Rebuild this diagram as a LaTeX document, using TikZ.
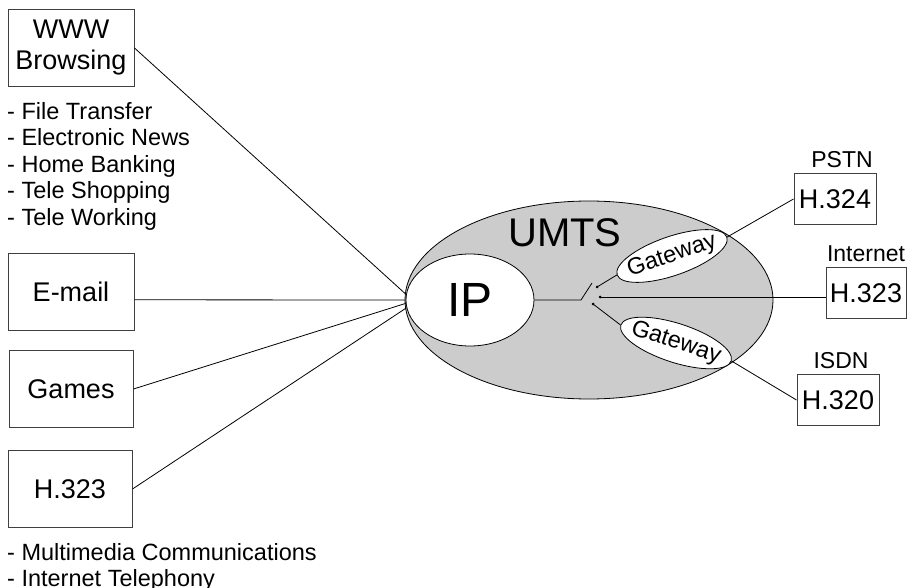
\documentclass[tikz,border=0pt]{standalone}
\usepackage{fontspec}
\setmainfont{Liberation Sans}
\definecolor{UmtsGray}{RGB}{204,204,204}
\definecolor{BoxLine}{RGB}{64,64,64}
\usetikzlibrary{positioning, shapes}

\begin{document}
\begin{tikzpicture}[x=1pt, y=1pt,
    svcbox/.style={draw=BoxLine, line width=1pt, minimum width=126pt, minimum height=77pt, inner sep=0pt, align=center, font=\fontsize{27}{31}\selectfont},
    netbox/.style={draw=BoxLine, line width=1pt, minimum width=82pt, minimum height=51pt, inner sep=0pt, font=\fontsize{27}{31}\selectfont},
    netlabel/.style={inner sep=0pt, font=\fontsize{23}{26}\selectfont},
    gateway/.style={ellipse, draw, fill=white, line width=0.8pt, minimum width=116pt, minimum height=39pt, inner xsep=-10pt, inner ysep=0pt, font=\fontsize{23.5}{26}\selectfont},
    svclist/.style={inner sep=0pt, align=left, anchor=north west, font=\fontsize{23.5}{26.5}\selectfont},
    link/.style={line width=0.8pt}]
    \useasboundingbox (0,0) rectangle (908,-588);

    % UMTS network
    \draw[fill=UmtsGray, line width=0.8pt] (589,-300) ellipse [x radius=184pt, y radius=99pt];
    \node[font=\fontsize{40}{44}\selectfont] (umts) at (565,-233) {UMTS};
    \node[ellipse, draw, fill=white, line width=0.8pt, minimum width=128pt, minimum height=92pt, inner sep=0pt, font=\fontsize{48}{52}\selectfont] (ip) at (470,-300) {IP};

    % Services
    \node[svcbox] (www) at (71,-48) {WWW\\Browsing};
    \node[svclist] (wwwlist) at (7,-102) {- File Transfer\\- Electronic News\\- Home Banking\\- Tele Shopping\\- Tele Working};
    \node[svcbox] (email) at (71,-292) {E-mail};
    \node[svcbox, minimum width=124pt] (games) at (71,-389) {Games};
    \node[svcbox, minimum width=124pt] (h323l) at (70,-489) {H.323};
    \node[svclist] (h323list) at (7,-543) {- Multimedia Communications\\- Internet Telephony};

    % Services to IP
    \draw[link] (www.east) -- (ip.175);
    \draw[link] (email.-7) -- (ip.west);
    \draw[link] (games.east) -- (ip.183);
    \draw[link] (h323l.east) -- (ip.187);

    % Switch
    \coordinate (sw) at (581,-300);
    \coordinate (blade) at (592,-283);
    \coordinate (d1) at (597,-287);
    \coordinate (d2) at (600,-297);
    \coordinate (d3) at (593,-304);
    \draw[link] (ip.east) -- (sw) -- (blade);
    \foreach \d in {d1,d2,d3}
        \fill (\d) circle (1.5pt);

    % Gateways
    \node[gateway, rotate=19] (gw1) at (672,-256) {Gateway};
    \node[gateway, rotate=-18] (gw2) at (676,-343) {Gateway};

    % External networks
    \node[netbox] (h324) at (835,-199) {H.324};
    \node[netbox, minimum width=80pt] (h323r) at (866,-293) {H.323};
    \node[netbox] (h320) at (838,-400) {H.320};
    \node[netlabel, above=5pt of h324, xshift=7pt] (pstn) {PSTN};
    \node[netlabel, above=5pt of h323r] (inet) {Internet};
    \node[netlabel, above=5pt of h320, xshift=3pt] (isdn) {ISDN};

    \draw[link] (d1) -- (gw1.west);
    \draw[link] (d3) -- (gw2.west);
    \draw[link] (d2) -- (d2 -| h323r.west);
    \draw[link] (gw1.east) -- (h324.west);
    \draw[link] (gw2.east) -- (h320.west);
\end{tikzpicture}
\end{document}
